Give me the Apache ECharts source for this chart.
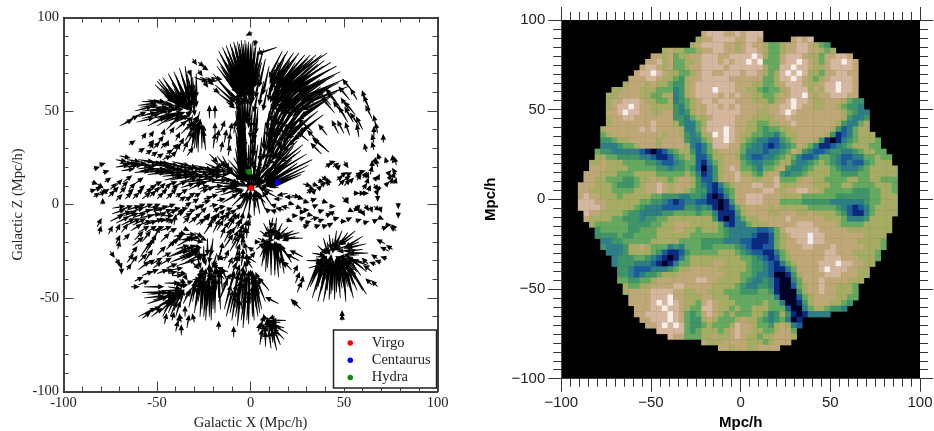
<!DOCTYPE html>
<html><head><meta charset="utf-8">
<style>html,body{margin:0;padding:0;background:#fff}#c{width:934px;height:431px}</style>
<script src="https://cdn.jsdelivr.net/npm/echarts@6/dist/echarts.min.js"></script></head>
<body><div id="c"></div><script>
const virgo=[[0.4,8.8]], centaurus=[[14.5,11.7]], hydra=[[-0.8,17.5]];
const leftTicks=['-100','-50','0','50','100'];
const heatRows=[
"",
"",
".........................78887787888",
"........................677888877887.....7878",
".......................6788887767877655677887654",
"..................6766556778877678876556778877656",
"................7767 566 778887788 8898 655 78887 665 77887",
"...............77867 556 678887878 8989 555 78898 765 788987",
"..............788767 556 778888788 8888 655 88988 766 788887",
".............7889876 655 678877888 7887 656 89898 665 778877",
"............77788766 546 778888877 7777 556 88987 656 788887",
"...........677767665 446 788888887 7766 556 78887 667 889887",
".........66777666555 346 788898887 7665 455 67888 676 889887",
"........667777665566 346 788887878 7766 556 77889 767 788877",
"........677888766556 345 678878887 7766 656 78988 766 7776544",
"........678898776666 435 677887878 7777 677 88987 766 7765443",
"........778988776677 434 677888888 7776 677 89877 777 77765433",
"........677887777777 4435 66788887 7766 667 78777 777 77764334",
"........677777778777 6433 56888887 7665 566 77877 777 77643356",
".......6777777878777 76335 7888987 7665 455 66777777 76423566",
".......5677777777767 76434 6798987 6655 443 56677777 641235666",
".......4456677777677 77433 5688987 6543 322 45677 7641013456665",
".......3334556777677 77632 3588877 5433 212 345 765311234566655",
"......54433333210124 56642 3567776 5333 233 45 76432234433456655",
"......66554444332112 45652 2466776 4322 3345 6532235543223355655",
".....667666555544322 34552 1356777 5433 4456 6433456543232245666",
".....777666655555443 44542 0246787 5543 5567 43345666543334566666",
"....7776665556666555 55653 1246778 6654 677 434456666554445566666",
"....7766555445667665 67764 2246778 7766778 555677665555665566555",
"...77766654445677876 77764 3213567 7788778 666777666556655556665",
"...77666655556677876 77654 4212457 7777887 677887765555544455665",
"...78776665666 665544 43344 3101357 7888777 666655555544444455666",
"...88877666666 554432 12332 2110147 7888777 555544444333333455666",
"...88887666665 433322 22443 4310125 6777767 666665555543212356666",
"....8776666544 333344 55554 5531114 6777766 777667666654211356666",
"....7666655444 344556 66666 6641013 5667777 78777777666533346666",
".....655555544 445566 77766 6665213 3566677 77788877776555566666",
"......45555544 555666 77665 66654333332235 78888887777766666666",
"......44445445 555666 66655 55554333321125 6788898877777776666",
".......3344555 556666 65555 44443332211125 6778898877777766665",
".......4333466 76555 343555 44555543211225 6777887778777776665",
"........333466 665421 12455 55566654322113 567777778877766665",
".........34445 543210 13566 66666665543212 567777778887776665",
".........34443 332101 35566 66776666544321 35677778889887766",
"..........4432 223334 56677 77766666544321 1357777898887766",
"..........4432 344566 67777 77776665543320 0146777788877766",
"..........5544 556777 77778 87766665433431 003577787777666",
"...........655 667777 88777 77666654334431 00256778776665",
"...........677 778888 77667 76665554445541 00046778776665",
"............77 778889 77666 77666555555553 00025677776655",
"............77 778989 87665 78766655555655 3001467776654",
".............7 778898 87655 88766565566655 520035665443",
".............7 788889 87545 78765655566534 641013333",
"..............778889 87544 67655567665434 5301",
"...............77898 98544 56555687765546 7632",
".................888 88545 66656787766556 775",
"...................8 77555 66766787665667 776",
".........................7666777766656777",
"............................77677667777",
"","","","",""
];
const crownArrows=[[1,92,-3,-1.5],[3,88,-1,-3],[14,84,-9,-3],[-18,78,9,-13],[-17,82,8,-14],[-15,84,7,-15],[-13,85,6,-16],[-11,86,5,-16],[-9,87,4,-17],[-7,87,3,-17],[-5,88,2,-18],[-3,88,1,-18],[-1,87,0,-18],[1,87,-1,-18],[3,86,-2,-17],[5,84,-3,-15],[7,83,-4,-14],[-16,74,8,-12],[-14,77,7,-13],[-12,79,6,-14],[-10,81,5,-15],[-8,82,4,-15],[-6,83,3,-15],[-4,84,2,-16],[-2,84,1,-16],[0,84,0,-16],[2,82,-1,-15],[4,78,-2,-13],[-13,68,7,-10],[-11,72,6,-12],[-9,75,5,-13],[-7,77,4,-14],[-5,78,3,-14],[-3,79,2,-14],[-1,79,1,-14],[1,78,0,-14],[-10,64,6,-9],[-8,68,5,-10],[-6,71,4,-11],[-4,72,3,-12],[-2,72,2,-12],[0,70,1,-12],[3,72,-2,-12],[6,76,-3,-11],[-20,70,10,-12],[-19,64,9,-8],[-18,60,8,-6],
[-14,82,6,-15],[-12,82,6,-15],[-10,84,5,-16],[-8,85,4,-17],[-6,86,3,-17],[-4,86,2,-17],[-2,86,1,-17],[0,86,0,-17],[2,84,-1,-16],[4,82,-2,-15],[-16,80,7,-14],[-18,74,9,-12],[-15,72,8,-11],[-12,75,6,-13],[-9,78,5,-14],[-6,80,3,-15],[-3,81,2,-15],[0,81,0,-15],[-17,66,9,-9],[-15,64,8,-8],[-13,62,7,-7],[-11,60,5,-6],[-14,69,8,-10],[-7,64,4,-8],[-4,65,2,-10],[-1,64,1,-10],[2,66,-1,-10],[5,70,-2,-11],[8,78,-3,-13],[10,74,-3,-13],[7,66,-2,-11],[9,62,-2,-10],[4,60,-2,-9],[-9,56,3,-5],[-13,55,4,-3]];
const rightFanArrows=[[17,82,-6,-12],[20,82,-8,-13],[23,81,-9,-13],[26,81,-11,-13],[29,80,-12,-14],[32,80,-14,-14],[35,80,-15,-13],[38,80,-16,-13],[41,81,-18,-12],[43,76,-18,-11],[46,74,-19,-10],[48,71,-19,-9],[50,67,-18,-8],[52,63,-18,-7],[18,78,-6,-14],[21,77,-7,-14],[24,76,-9,-14],[27,75,-10,-14],[30,75,-12,-13],[33,75,-13,-13],[36,75,-14,-12],[39,74,-15,-11],[42,72,-16,-10],[45,69,-17,-9],[47,65,-17,-8],[15,76,-4,-14],[19,72,-6,-14],[22,70,-8,-13],[25,70,-9,-13],[28,70,-11,-13],[31,69,-12,-12],[34,68,-13,-11],[37,67,-14,-11],[40,66,-15,-10],[43,63,-15,-9],[46,60,-15,-8],[13,72,-3,-14],[17,66,-5,-13],[20,65,-7,-13],[23,64,-8,-13],[26,63,-10,-12],[29,62,-11,-12],[32,61,-12,-11],[35,60,-13,-11],[38,59,-13,-10],[41,56,-13,-9],[15,60,-4,-13],[18,58,-6,-13],[21,57,-7,-13],[24,56,-8,-12],[27,55,-9,-12],[30,53,-10,-11],[33,52,-11,-10],[36,50,-11,-9],[39,48,-11,-8],[12,56,-3,-13],[16,52,-5,-12],[19,50,-6,-12],[22,49,-7,-11],[25,47,-8,-11],[28,45,-9,-10],[31,42,-9,-9],
[18.5,80,-7,-13],[21.5,79,-8,-13],[24.5,79,-9,-13],[27.5,78,-11,-13],[30.5,78,-12,-13],[33.5,78,-13,-13],[36.5,77,-14,-12],[39.5,77,-15,-12],[16.5,70,-5,-13],[19.5,68,-6,-13],[22.5,67,-8,-13],[25.5,66,-9,-13],[28.5,66,-10,-13],[31.5,65,-12,-12],[34.5,64,-13,-11],[37.5,63,-13,-11],[40.5,61,-14,-10],[43.5,58,-14,-9],[17,55,-5,-13],[20,53,-6,-13],[23,52,-7,-12],[26,51,-8,-12],[29,49,-9,-11],[32,47,-10,-10],[35,45,-10,-9],[14,48,-3,-12],[18,46,-5,-12],[21,44,-6,-11],[24,42,-7,-11],[27,40,-8,-10],[12,46,-2,-13],[16,40,-5,-11],[19,38,-6,-11],[22,36,-8,-10],[25,34,-9,-9],[28,32,-10,-8],[20,34,-7,-12],[23,31,-9,-11]];
const branchArrows=[[13,50,-2,-12],[10,50,-1,-12],[14,46,-3,-12],[11,44,-2,-13],[8,44,-1,-12],[15,42,-4,-12],[12,38,-3,-12],[9,38,-2,-12],[16,37,-5,-11],[13,33,-4,-12],[10,31,-3,-12],[6,36,-1,-11],[7,28,-3,-11],[17,33,-6,-10],[33,24,-20,-10],[31,21,-18,-9],[29,18,-17,-7],[27,16,-14,-6],[30,27,-18,-11],[27,29,-15,-12],[24,27,-13,-11],[22,24,-12,-10],[25,22,-13,-9],[23,19,-12,-7],[20,31,-10,-13],[18,27,-9,-11],[20,21,-10,-8],[18,17,-9,-6],[16,22,-8,-9],[22,14,-11,-3]];
const trunkArrows=[[-7,60,1,-14],[-5,60,1,-14],[-3,60,0,-14],[-1,60,-1,-14],[1,60,-2,-14],[-8,50,2,-14],[-7,48,1,-14],[-6,50,1,-14],[-5,46,0,-14],[-4,50,0,-14],[-3,47,0,-14],[-8,40,2,-14],[-7,36,2,-14],[-6,38,1,-14],[-5,34,1,-14],[-4,38,0,-14],[-3,35,0,-14],[-8,30,2,-12],[-6,28,1,-12],[-4,28,0,-12],[-2,28,0,-12],[0,48,-1,-6],[1,52,-1,-14],[2,46,-1,-12],[3,40,-1,-12],[4,46,-2,-10],[1,38,0,-10],
[-7.5,56,1,-15],[-6.5,55,1,-15],[-5.5,56,0,-15],[-4.5,55,0,-15],[-3.5,56,0,-15],[-6.5,44,1,-15],[-5.5,42,1,-15],[-4.5,43,0,-15],[-3.5,42,0,-15],[-7.5,34,2,-14],[-6.5,32,1,-14],[-5.5,31,1,-14],[-4.5,31,0,-14],[-3.5,30,0,-14],[-2.5,36,0,-12],[0,36,0,-12],[2,34,-1,-12],[4,32,-2,-12],[6,30,-2,-12],[3,56,-1,-13],[4,52,-1,-12],[-1,32,0,-12]];
const centerArrows=[[-12,24,8,-9],[-9,25,6,-10],[-6,26,4,-11],[-3,27,2,-12],[0,27,0,-12],[3,27,-1,-12],[6,26,-3,-11],[9,24,-5,-10],[12,21,-7,-8],[15,18,-9,-6],[-15,20,9,-6],[-18,16,10,-4],[-20,12,10,-1],[-19,8,10,1],[-16,5,9,3],[-13,2,8,5],[-10,-1,6,6],[-7,-3,5,8],[-4,-5,3,9],[-1,-6,1,10],[2,-6,0,11],[5,-5,-2,10],[8,-3,-3,8],[11,0,-4,6],[14,4,-6,3],[15,9,-8,1],[-8,18,5,-5],[-4,19,3,-6],[0,20,0,-6],[4,19,-2,-6],[8,17,-4,-5],[-12,14,6,-3],[-14,10,7,0],[-10,6,5,2],[-6,3,4,3],[0,2,0,5],[5,3,-2,4],[9,7,-4,2],[20,6,-5,-1],[17,3,-4,0],[14,-1,-3,1],[24,4,-5,0],[10,-4,-2,2],[14,-4,-3,1],[18,-3,-4,1],[21,-2,-4,1],
[-5,16,5,-6],[5,16,-5,-6],[-8,10,8,0],[8,12,-8,-2],[-4,4,4,6],[4,5,-4,5],[-3,22,3,-12],[3,22,-3,-12],[-10,12,10,-2],[10,14,-10,-4],[-16,15,8,-3],[-13,20,7,-6],[-17,10,8,-1],[-15,1,7,4],[-10,20,6,-8],[12,15,-8,-5],[10,20,-6,-8],[-5,-2,3,6],[3,-2,-1,6],[8,1,-4,4],[12,7,-6,2],[-6,24,3,-10],[6,22,-3,-10],[-2,14,1,-5],[2,14,-1,-5]];
const upperRightSparse=[[33,39,-6.5,6],[31,34,-5,4],[35,35,-4,4],[41,37,-4,5],[42,28,-7,6],[40,30,-6,5],[38,27,-5,5],[47,38,-3,6],[50,38,-3,6],[53,37,-2,6],[58,36,-1,6],[48,52,-6,7],[45,49,-6,7],[43,53,-6,7],[50,48,-5,6],[46,55,-5,6],[52,44,-4,7],[55,44,-4,7],[58,42,-4,6],[60,40,-3,6],[56,48,-5,6],[53,50,-4,6],[65,46,-3,6],[64,50,-3,7],[62,54,-2,6],[67,42,-1,5],[68,38,-1,5],[66,36,0,5],[55,60,-5,6],[53,56,-5,6],[57,56,-3,5],[66,33,-1,4],[71,33,0,4],[62,28,-1,4],[66,29,-1,4]];
const rightScatter=[[40,20,3,2],[42,22,3,1],[44,20,3,2],[46,19,2,2],[50,23,2,-3],[65,19,0,4],[66,22,1,3],[68,20,-1,4],[64,16,1,4],[76,22,0,4],[73,22,-1,3],[78,21,-1,4],[69,24,-1,3],[76,14,1,3],[78,16,-2,3],[75,11,1,3],[73,16,2,2],[77,11,1,3],[72,10,2,2],[74,13,1,3],[56,15,3,2],[58,17,3,1],[60,14,2,3],[57,13,2,3],[62,14,1,3],[60,8,2,3],[62,11,1,3],[63,7,1,3],[66,11,2,-3],[67,8,1,-3],[68,5,0,-3],[69,10,-1,-3],[68,14,1,2],[66,13,2,2],[48,15,3,2],[50,13,3,2],[52,16,2,1],[47,10,3,3],[50,10,3,3],[53,12,2,2],[46,13,3,2],[38,15,3,-2],[40,13,3,-1],[36,13,3,-1],[41,10,1,3],[38,10,2,2],[28,11,4,-1],[31,9,3,-1],[33,11,3,-1],[30,6,3,2],[33,6,2,2],[36,8,2,2],[55,6,3,0],[58,6,3,0],[61,6,2,0],[49,4,3,-3],[51,4,1,-3],[79,1,0,-3],[79,-4,0,-3],[66,-1,3,-2],[69,-1,1,-3],[61,0,2,-3],[64,-1,1,-3],[57,0,1,-3],[58,-3,2,-2],[55,-2,3,-1],[53,-3,2,-1],[60,-4,1,-2],[22,5,4,-1],[25,4,3,-1],[28,2,3,-1],[24,-1,3,-1],[28,-3,3,0],[32,2,3,1],[34,-1,2,1],[30,-5,3,-1],[20,1,3,-1],[36,-4,3,1],[42,-1,3,0],[45,-5,-3,1],[40,-6,3,1],[38,2,3,-1],[32,-8,4,1],[36,-9,3,1],[44,-8,3,1],[48,-9,3,0],[52,-8,2,1],[56,-9,3,1],[60,-10,3,1],[66,-9,2,1],[69,-7,2,-1],[72,-11,3,0],[75,-12,3,0],[78,-14,-3,2],[70,-13,3,1],[72,-21,-4,2],[76,-24,-3,2],[74,-25,-4,2],[68,-29,-3,2],[70,-31,-3,1],[73,-29,-3,1],[67,-32,-3,1],[63,-32,-3,3],[65,-36,-4,3],[65,-43,-3,3],[68,-44,-3,3],[49,-60,0,3],[49,-62,0,3]];
const lowerRightFan=[[30,-46,6,14],[33,-50,5,16],[36,-52,4,16],[39,-52,3,17],[42,-51,1,16],[45,-51,0,16],[48,-50,-1,15],[51,-48,-3,14],[54,-47,-4,13],[57,-46,-5,12],[60,-46,-6,11],[62,-48,-7,11],[32,-44,5,13],[35,-46,4,13],[38,-46,3,13],[41,-46,1,13],[44,-46,0,13],[47,-44,-1,12],[50,-42,-2,11],[53,-41,-4,10],[56,-40,-5,9],[59,-38,-6,8],[62,-36,-7,6],[64,-33,-8,3],[61,-31,-8,2],[58,-27,-7,0],[60,-24,-8,-1],[62,-21,-9,-2],[58,-20,-7,-3],[55,-17,-6,-4],[52,-15,-4,-6],[49,-14,-3,-7],[46,-14,-1,-8],[56,-14,-7,-6],[60,-17,-8,-5],[42,-16,1,-7],[39,-18,2,-7],[36,-22,4,-4],[33,-26,6,-1],[30,-30,7,0],[31,-34,7,2],[34,-38,5,5],[37,-40,4,7],[40,-40,3,8],[44,-40,0,9],[47,-38,-1,7],[50,-36,-3,6],[53,-34,-4,5],[56,-33,-6,4],[25,-47,2,5],[24,-42,2,5],[27,-44,1,5],[23,-37,2,4],[27,-56,-4,4],[25,-54,-3,3],[15,-53,-6,3],
[36,-44,4,14],[40,-48,2,16],[43,-48,1,15],[46,-47,0,14],[49,-45,-2,13],[52,-44,-3,12],[55,-43,-4,11],[58,-42,-6,10],[33,-42,5,11],[38,-42,3,11],[36,-38,3,9],[42,-36,1,8],[46,-34,0,5],[50,-30,-4,2],[54,-28,-6,0],[56,-24,-8,-1],[52,-22,-6,-2],[50,-18,-4,-5],[47,-18,-2,-6],[44,-18,0,-7],[41,-20,1,-6],[38,-24,4,-2],[35,-28,5,0],[38,-32,5,2],[60,-34,-7,5],[57,-36,-6,6],[63,-26,-9,0],[55,-50,-3,12],[51,-52,-1,14]];
const midRightTree=[[15,-39,-1,14],[11,-38,0,14],[8,-36,1,14],[6,-33,2,12],[18,-37,-2,13],[13,-35,0,13],[5,-28,3,6],[3,-24,4,3],[4,-18,4,-2],[7,-10,3,-6],[10,-8,1,-7],[14,-7,-1,-8],[17,-10,-3,-6],[20,-12,-5,-5],[23,-14,-6,-3],[26,-15,-8,-2],[28,-18,-9,0],[28,-28,-6,3],[20,-27,-5,5],[18,-30,-3,7],[16,-32,-3,6],[22,-31,-5,8],[26,-30,-6,3],[13,-28,-1,6],[9,-27,1,5],[12,-12,0,-4],[19,-8,3,-1],
[13,-38,0,14],[9,-34,1,13],[16,-34,-2,12],[7,-30,2,9],[11,-32,0,10],[6,-24,3,4],[5,-14,4,-3],[9,-12,2,-6],[13,-10,-1,-6],[16,-13,-3,-5],[20,-15,-5,-3],[24,-17,-6,-2],[10,-24,2,3],[15,-26,-2,4],[18,-24,-4,3],[8,-19,4,0],[16,-18,-3,0],[12,-7,-1,-5],[-1,-30,3,4],[2,-20,3,0],[22,-35,-4,4],[19,-34,-3,5]];
const bottomArrows=[[-9,-71,0,5],[-17,-67,0,4],[-5,-62,2,14],[-2,-62,1,14],[1,-60,0,14],[-8,-60,2,14],[-11,-58,3,13],[-14,-56,3,11],[-17,-52,4,10],[4,-60,-2,14],[6,-56,-3,13],[3,-55,-2,13],[0,-53,-1,13],[-3,-54,0,13],[-6,-53,1,13],[-9,-50,2,11],[-12,-48,3,10],[8,-52,-4,10],[5,-48,-3,9],[2,-47,-1,10],[-1,-46,0,9],[-5,-46,1,9],[10,-46,-5,6],[-15,-44,4,6],[5,-75,1,7],[8,-76,0,7],[11,-77,-1,8],[14,-78,-2,9],[16,-75,-3,7],[7,-70,2,7],[10,-72,0,8],[13,-72,-2,7],[18,-72,-5,5],[20,-69,-7,4],[18,-66,-7,2],[19,-62,-7,0],[16,-63,-6,0],[10,-66,-1,5],[6,-64,1,4],[13,-60,-3,-1],[4,-68,1,4],[-8,-38,2,5],[-5,-40,1,6],[-2,-36,-1,5],[1,-34,-3,4],[3,-31,-5,3],[-10,-32,3,4],[-7,-29,1,4],[-4,-28,0,4],[2,-25,-3,2],
[-7,-65,1,12],[-4,-66,1,14],[-1,-64,0,14],[2,-62,-1,14],[-10,-62,2,13],[-13,-60,3,12],[5,-58,-2,13],[-5,-56,1,12],[-8,-55,2,12],[-2,-50,0,10],[4,-50,-2,10],[-6,-48,1,9],[-11,-44,2,7],[-7,-42,1,6],[-3,-42,0,6],[1,-42,-1,6],[5,-42,-2,5],[8,-74,0,8],[12,-74,-1,8],[6,-72,1,7],[15,-70,-3,6],[12,-68,-2,6],[9,-68,0,6],[16,-66,-5,3],[14,-64,-4,2],[8,-62,-1,3],[5,-67,1,4]];
const lowerLeftTrees=[[-24,-62,1,16],[-21,-62,0,16],[-27,-60,1,15],[-19,-58,0,16],[-30,-58,2,14],[-16,-56,-1,14],[-24,-56,1,14],[-33,-55,3,12],[-28,-52,2,13],[-20,-52,0,13],[-23,-50,1,12],[-26,-48,1,11],[-18,-46,-1,10],[-30,-46,3,9],[-21,-44,0,9],[-14,-40,-4,5],[-12,-36,-5,2],[-16,-34,-4,1],[-12,-28,-5,-1],[-21,-22,-1,-8],[-25,-22,0,-8],[-29,-26,2,-7],[-18,-26,-2,-7],[-32,-30,4,-4],[-22,-30,0,-6],[-57,-44,9,0],[-58,-47,10,0],[-57,-50,9,1],[-55,-53,9,3],[-52,-56,8,4],[-49,-58,6,6],[-60,-60,8,4],[-58,-61,4,3],[-47,-60,4,8],[-44,-58,3,7],[-41,-57,3,8],[-38,-55,2,8],[-35,-60,0,5],[-37,-63,-1,4],[-34,-66,1,6],[-37,-70,0,5],[-40,-68,1,5],[-39,-65,1,5],[-46,-64,1,5],[-42,-62,1,4],[-30,-63,-1,4],[-50,-50,9,2],[-47,-53,7,4],[-45,-55,5,5],[-53,-48,10,1],[-48,-46,9,0],[-43,-50,5,3],[-40,-52,3,5],[-38,-47,2,5],[-44,-44,6,-1],[-41,-42,4,-1],[-38,-40,3,-2],[-36,-37,2,-3],[-34,-42,3,1],[-31,-40,4,0],[-35,-50,3,4],[-32,-49,4,4],
[-25,-60,1,15],[-22,-60,0,15],[-20,-56,0,14],[-26,-56,1,14],[-29,-54,2,13],[-23,-54,1,14],[-17,-50,0,12],[-31,-52,2,11],[-25,-46,1,10],[-28,-44,2,9],[-22,-40,0,7],[-15,-46,-1,10],[-12,-42,-3,7],[-16,-38,-3,3],[-18,-30,-2,-3],[-25,-28,1,-4],[-28,-22,1,-7],[-23,-18,0,-8],[-20,-18,-1,-8],[-15,-22,-2,-7],[-55,-48,9,1],[-52,-51,9,2],[-49,-54,7,4],[-46,-57,5,6],[-43,-60,3,7],[-40,-60,2,7],[-47,-48,8,1],[-44,-52,6,3],[-41,-48,5,2],[-38,-44,4,1],[-46,-42,7,0],[-42,-38,5,0],[-40,-36,5,-1],[-33,-46,4,3],[-36,-53,3,6],[-55,-58,6,3],[-53,-60,5,4]];
const lowerLeftBand=[[-75,-9,6,3],[-72,-10,6,3],[-69,-11,6,3],[-66,-11,6,3],[-63,-11,6,3],[-60,-11,6,2],[-57,-11,6,2],[-54,-10,6,2],[-51,-9,5,1],[-48,-9,5,1],[-71,-6,6,2],[-67,-7,6,2],[-63,-7,6,2],[-59,-7,6,1],[-55,-6,6,1],[-51,-6,5,1],[-47,-6,5,0],[-44,-10,3,2],[-41,-11,1,5],[-82,-12,2,4],[-81,-16,1,4],[-76,-16,2,4],[-72,-15,2,4],[-69,-15,3,4],[-72,-21,2,4],[-71,-24,1,4],[-68,-19,3,3],[-75,-25,2,-3],[-72,-29,2,-3],[-70,-31,1,-3],[-69,-34,0,-3],[-66,-31,3,4],[-64,-27,3,4],[-66,-35,2,3],[-63,-22,5,4],[-59,-28,5,7],[-56,-26,4,7],[-54,-23,3,6],[-52,-19,3,6],[-57,-31,4,6],[-60,-35,5,4],[-57,-33,5,3],[-53,-32,5,3],[-58,-38,5,2],[-55,-37,5,2],[-50,-37,5,2],[-47,-36,5,1],[-44,-37,4,1],[-52,-34,4,3],[-50,-27,4,4],[-47,-28,4,2],[-64,-44,4,0],[-43,-31,10,4],[-40,-33,9,3],[-37,-30,8,4],[-34,-28,6,4],[-38,-25,6,2],[-35,-24,5,2],[-42,-27,7,3],[-32,-22,5,-1],[-42,-20,5,3],[-39,-22,7,4],[-36,-19,6,1],[-33,-17,5,-1],[-30,-15,4,-2],[-38,-15,3,-1],[-35,-13,2,-1],[-14,-23,4,6],[-11,-25,4,7],[-8,-23,3,7],[-5,-22,1,6],[-12,-18,3,5],[-9,-14,3,5],[-6,-16,2,5],[-3,-14,1,5],[-2,-18,0,5],[0,-10,-1,5],[-5,-10,1,5],[-10,-9,2,4],[-15,-14,3,4],[-2,-26,-1,5],
[-44,-28,9,3],[-41,-30,9,3],[-38,-28,8,3],[-35,-31,8,4],[-36,-26,6,2],[-33,-25,5,1],[-30,-30,6,3],[-40,-24,6,2],[-44,-22,5,3],[-41,-17,5,1],[-38,-19,6,1],[-35,-16,5,0],[-31,-19,5,-1],[-28,-17,4,-2],[-14,-20,3,6],[-10,-21,3,6],[-7,-19,2,6],[-4,-18,1,5],[-7,-13,2,5],[-1,-14,0,5],[-12,-11,2,4],[-8,-28,2,6],[-5,-33,1,6],[-10,-38,2,6],[-14,-30,2,5]];
const upperLeftFans=[[-50,66,8,-9],[-47,68,7,-10],[-44,70,6,-11],[-41,71,5,-12],[-38,73,4,-13],[-35,74,2,-14],[-32,72,1,-13],[-29,70,0,-11],[-48,62,8,-7],[-45,64,7,-8],[-42,65,6,-10],[-39,66,4,-11],[-36,67,3,-12],[-33,66,2,-11],[-30,64,1,-10],[-46,58,8,-5],[-43,60,6,-7],[-40,60,5,-8],[-37,61,3,-9],[-34,60,2,-9],[-31,58,1,-9],[-28,76,3,-2],[-26,74,3,-2],[-31,78,2,-3],[-28,72,2,-3],[-33,72,1,-3],[-25,66,2,-3],[-22,66,2,-2],[-20,62,3,-2],[-30,68,6,-2],[-27,68,6,-2],[-24,68,5,-2],[-21,68,5,-1],[-70,42,6,3],[-67,44,6,3],[-64,46,7,3],[-62,50,8,2],[-60,53,8,1],[-58,55,8,0],[-55,56,8,-1],[-61,44,8,2],[-58,46,8,2],[-58,50,9,1],[-55,52,9,0],[-52,55,8,-1],[-55,42,8,4],[-52,44,9,3],[-52,48,9,2],[-49,51,8,0],[-50,42,8,5],[-48,45,9,3],[-46,48,8,1],[-45,40,6,6],[-43,43,7,4],[-40,44,6,3],[-38,42,6,4],[-36,46,4,3],[-34,40,5,6],[-31,42,3,5],[-31,48,-1,-6],[-29,46,-1,-5],[-27,50,-2,-6],[-33,36,3,7],[-35,34,4,7],[-22,46,0,6],[-19,46,0,6],[-19,38,0,5],[-16,39,2,5],[-11,38,1,5],[-9,38,1,6],[-47,37,1,3],[-58,35,2,3],[-55,31,3,3],[-52,30,3,3],[-50,32,3,4],[-45,31,1,3],[-50,25,3,2],[-47,24,4,2],[-45,27,3,2],[-43,25,3,3],[-30,30,1,11],[-28,28,0,13],[-26,30,0,11],[-32,28,2,9],[-24,29,-1,9],[-34,32,3,6],[-27,38,-1,5],[-30,37,1,5],[-38,31,2,4],[-36,28,2,5],[-40,28,2,4],[-34,26,3,4],
[-51,64,8,-8],[-49,67,7,-9],[-46,66,7,-9],[-43,68,6,-11],[-40,69,5,-11],[-37,70,4,-12],[-34,70,3,-12],[-31,68,1,-11],[-47,60,8,-6],[-44,62,7,-8],[-41,62,5,-9],[-38,64,4,-10],[-35,64,3,-10],[-32,62,2,-9],[-44,56,7,-3],[-41,56,5,-4],[-38,57,3,-5],[-35,56,2,-5],[-59,52,8,1],[-56,48,9,2],[-60,47,8,2],[-54,50,9,1],[-50,54,8,-1],[-47,52,8,0],[-44,50,7,1],[-50,46,9,2],[-46,44,8,3],[-42,47,6,2],[-53,46,9,2],[-40,40,5,4],[-37,38,5,5],[-34,48,2,2],[-28,34,1,10],[-31,33,1,9],[-25,33,0,8],[-29,30,1,12]];
const midLeftBand=[[-72,24,5,-1],[-70,26,5,-1],[-68,22,6,0],[-66,24,6,-1],[-72,20,6,1],[-69,18,6,1],[-65,20,6,1],[-62,21,7,0],[-60,24,7,-1],[-58,21,7,0],[-62,17,7,1],[-59,18,7,1],[-55,23,8,-1],[-55,19,8,0],[-52,21,8,0],[-55,16,8,1],[-51,17,8,1],[-48,23,8,-2],[-48,19,8,0],[-47,15,9,1],[-44,22,8,-2],[-44,18,8,0],[-43,13,9,2],[-40,21,8,-2],[-40,17,8,0],[-39,14,8,1],[-36,20,8,-1],[-36,16,8,0],[-35,12,8,1],[-32,18,8,-1],[-31,15,8,0],[-30,21,8,-2],[-27,19,8,-1],[-27,16,8,0],[-24,22,7,-3],[-24,18,7,-1],[-26,12,7,1],[-21,24,5,-4],[-21,20,7,-2],[-20,16,7,0],[-22,27,4,-4],[-18,26,4,-5],[-15,26,3,-6],[-30,10,6,2],[-33,8,6,3],
[-70,22,6,0],[-67,20,6,1],[-64,22,7,0],[-60,19,7,1],[-57,23,8,-1],[-57,17,8,1],[-53,23,8,-1],[-53,18,8,0],[-50,21,8,-1],[-49,16,8,1],[-46,20,8,-1],[-46,17,8,0],[-46,13,8,2],[-42,23,8,-2],[-42,19,8,-1],[-42,15,8,1],[-38,22,8,-2],[-38,18,8,-1],[-38,12,8,2],[-34,20,8,-1],[-34,15,8,0],[-33,11,8,1],[-29,18,8,-1],[-29,13,8,1],[-25,20,8,-2],[-25,15,8,0],[-22,13,8,0],[-18,22,7,-3],[-18,18,7,-1],[-17,13,6,0],[-23,9,7,1],[-19,6,6,2],[-41,10,6,2],[-37,9,6,2],[-45,10,5,2],[-28,8,5,2],[-15,23,5,-5]];
const leftScatter=[[-81,21,3,1],[-84,19,3,1],[-79,17,3,1],[-85,12,3,-1],[-82,11,3,-2],[-80,8,3,-2],[-86,7,3,1],[-84,4,3,2],[-81,5,3,2],[-78,12,3,2],[-75,8,3,3],[-76,4,3,3],[-72,10,3,3],[-70,6,3,3],[-72,2,3,3],[-68,12,4,3],[-65,8,3,3],[-67,3,3,3],[-62,11,4,3],[-60,7,3,3],[-63,3,3,3],[-58,3,4,3],[-55,8,4,2],[-52,10,4,2],[-54,4,3,3],[-49,8,3,3],[-50,3,3,3],[-46,8,3,3],[-45,3,3,3],[-42,8,3,2],[-40,4,3,2],[-37,6,3,2],[-35,2,3,2],[-30,4,3,2],[-27,7,4,1],[-24,8,4,1],[-25,3,4,1],[-79,0,0,3],[-74,-2,6,1],[-70,-3,6,2],[-66,-3,6,2],[-62,-2,5,2],[-58,-2,5,2],[-54,-2,5,2],[-50,-3,5,2],[-46,-2,5,2],[-42,-3,4,1],[-38,-3,4,1],[-34,-4,4,1],[-30,-2,3,1],[-31,-8,4,3],[-27,-5,3,3],[-24,-8,2,3],[-27,-11,4,5],[-23,-13,4,6],[-20,-10,3,5],[-20,-4,3,2],[-16,-5,2,2],[-13,-3,3,1],[-20,-15,3,6],[-25,-16,4,6],
[-83,8,3,1],[-79,6,3,2],[-74,6,3,3],[-69,9,3,3],[-66,5,3,3],[-61,5,3,3],[-57,6,4,2],[-52,6,3,3],[-48,5,3,3],[-43,5,3,3],[-38,2,3,2],[-33,4,3,2],[-22,4,4,1],[-18,2,4,1],[-74,-5,6,2],[-68,-6,6,2],[-64,-4,6,2],[-60,-5,6,2],[-56,-4,6,2],[-52,-4,5,2],[-48,-5,5,2],[-44,-5,4,2],[-40,-6,4,2],[-36,-7,4,2],[-33,-10,4,3],[-29,-11,4,3],[-25,-9,3,3],[-22,-10,3,4],[-17,-9,3,3],[-14,-9,2,4],[-12,-13,3,5],[-36,-10,3,3]];
const gapFillArrows=[[-64,-14,5,3],[-60,-15,5,3],[-56,-15,5,3],[-52,-14,5,2],[-48,-14,5,2],[-44,-15,4,2],[-62,-19,4,4],[-58,-20,4,5],[-48,-20,4,4],[-45,-24,4,4],[-64,-32,3,4],[-60,-31,4,4],[-48,-32,5,3],[-45,-34,5,2],[-42,-35,5,1],[-62,-41,4,2],[-60,-43,5,2],[-39,-5,3,2],[-35,-1,3,2],[-31,1,3,2],[-28,-2,3,2],[-26,1,4,1],[-22,-1,4,1],[-18,-2,4,1],[-14,-7,3,3],[-11,-5,3,2],[-8,-8,2,3],[-8,-3,3,3],[-54,30,2,3],[-48,30,3,3],[-42,29,3,3],[-60,28,3,2],[-56,27,3,2],[-53,26,3,2],[-40,34,2,4],[-43,38,2,3],[-54,36,2,3],[-65,32,3,2],[-18,33,1,6],[-14,33,1,6],[-20,30,1,7],[-12,30,1,7],[-16,28,1,5],[-12,26,1,5],[26,-4,3,0],[26,-8,3,1],[29,-10,3,1],[22,-6,3,0],[34,-12,3,1],[38,-12,3,1],[42,-11,2,1],[28,-12,3,1],[-2,-32,0,5],[-12,-34,2,5],[-16,-26,1,5],[-8,-33,2,5],[-4,-23,0,5],[-18,-14,3,5],[-16,-18,2,5]];
const arrows=[crownArrows,rightFanArrows,branchArrows,trunkArrows,centerArrows,upperRightSparse,rightScatter,lowerRightFan,midRightTree,bottomArrows,lowerLeftTrees,lowerLeftBand,upperLeftFans,midLeftBand,leftScatter,gapFillArrows].flat();
const arrowScale=1.2;
const heatColors=['#000028','#0b2a80','#1d5c9a','#2d7e86','#3f9468','#65a85f','#a6ac63','#bfa877','#d5b69f','#f7eeea'];

const cells=[];
heatRows.forEach((row,r)=>{
  row.replace(/ /g,'').split('').forEach((ch,c)=>{ if(ch!=='.') cells.push([c,63-r,+ch]); });
});
const idx=Array.from({length:64},(_,i)=>i);
const serif='"Liberation Serif"', sans='"Liberation Sans"';
const chart=echarts.init(document.getElementById('c'),null,{renderer:'canvas'});
function renderArrow(params,api){
  const a=api.coord([api.value(0),api.value(1)]);
  const b=api.coord([api.value(0)+arrowScale*api.value(2),api.value(1)+arrowScale*api.value(3)]);
  const ang=Math.atan2(b[1]-a[1],b[0]-a[0]), cs=Math.cos(ang), sn=Math.sin(ang), L=6, W=2.7;
  const len=Math.hypot(b[0]-a[0],b[1]-a[1]);
  const bx=b[0]-L*cs, by=b[1]-L*sn, px=-sn, py=cs;
  const base=Math.min(0.4+len*0.03,1.5), tail=0.35;
  return {type:'group',children:[
    {type:'polygon',shape:{points:[[a[0]+px*tail,a[1]+py*tail],[bx+px*base,by+py*base],[bx-px*base,by-py*base],[a[0]-px*tail,a[1]-py*tail]]},style:{fill:'#000'}},
    {type:'polygon',shape:{points:[[b[0],b[1]],[bx+px*W,by+py*W],[bx-px*W,by-py*W]]},style:{fill:'#000'}}
  ]};
}
const leftAxis=(extra)=>Object.assign({type:'value',gridIndex:0,min:-100,max:100,interval:50,splitLine:{show:false},
  axisLine:{show:true,onZero:false,lineStyle:{color:'#000',width:1.5}},
  axisTick:{inside:true,length:10,lineStyle:{color:'#444',width:1}},
  minorTick:{show:true,splitNumber:5,length:5,lineStyle:{color:'#444',width:1}},
  axisLabel:{show:false}},extra);
const leftLabel={show:true,margin:4.5,color:'#222',fontFamily:serif,fontSize:14.5,showMinLabel:true,showMaxLabel:true,formatter:v=>leftTicks[(v+100)/50]};
const leftName={color:'#222',fontFamily:serif,fontSize:14.5};
const rightAxis=(extra)=>Object.assign({type:'value',gridIndex:2,min:-100,max:100,interval:50,splitLine:{show:false},
  axisLine:{show:false,onZero:false},
  axisTick:{length:13,lineStyle:{color:'#333',width:1}},
  minorTick:{show:true,splitNumber:10,length:8,lineStyle:{color:'#333',width:1}},
  axisLabel:{show:false}},extra);
const rightLabel={show:true,margin:17,color:'#222',fontFamily:sans,fontSize:15,showMinLabel:true,showMaxLabel:true,formatter:v=>String(v).replace('-','\u2212')};
const rightName={color:'#000',fontFamily:sans,fontSize:15,fontWeight:'bold'};
const hiddenCat={type:'category',data:idx,show:false,gridIndex:1};
chart.setOption({
  animation:false,
  backgroundColor:'#fff',
  grid:[
    {left:63.5,top:17.5,width:374,height:374,containLabel:false,outerBoundsMode:'none'},
    {left:561.3,top:20,width:358.7,height:358.7,show:true,backgroundColor:'#000',borderWidth:0,outerBoundsMode:'none'},
    {left:561.3,top:20,width:358.7,height:358.7,outerBoundsMode:'none'}
  ],
  xAxis:[
    leftAxis({position:'bottom',axisLabel:leftLabel,name:'Galactic X (Mpc/h)',nameLocation:'middle',nameGap:15.5,nameTextStyle:leftName}),
    leftAxis({position:'top'}),
    hiddenCat,
    rightAxis({position:'bottom',axisLabel:rightLabel,name:'Mpc/h',nameLocation:'middle',nameGap:35.5,nameTextStyle:rightName}),
    rightAxis({position:'top'})
  ],
  yAxis:[
    leftAxis({position:'left',axisLabel:leftLabel,name:'Galactic Z (Mpc/h)',nameLocation:'middle',nameGap:38,nameTextStyle:leftName}),
    leftAxis({position:'right'}),
    hiddenCat,
    rightAxis({position:'left',axisLabel:Object.assign({},rightLabel,{margin:16}),name:'Mpc/h',nameLocation:'middle',nameGap:63,nameTextStyle:rightName}),
    rightAxis({position:'right'})
  ],
  visualMap:{show:false,type:'continuous',seriesIndex:4,dimension:2,min:0,max:9,inRange:{color:heatColors}},
  legend:{
    left:333.5,top:330,orient:'vertical',data:[{name:'Virgo'},{name:'Centaurus'},{name:'Hydra'}],
    icon:'circle',itemWidth:33,itemHeight:5.5,itemGap:2.2,padding:[5.5,6,3,14],
    borderColor:'#222',borderWidth:1.5,backgroundColor:'#fff',selectedMode:false,z:20,
    textStyle:{fontFamily:serif,fontSize:14.5,color:'#222',lineHeight:14,height:14}
  },
  series:[
    {type:'custom',name:'flow',xAxisIndex:0,yAxisIndex:0,coordinateSystem:'cartesian2d',data:arrows,renderItem:renderArrow,silent:true,clip:true,z:2,progressive:0,dimensions:['x','z','dx','dz'],encode:{x:0,y:1}},
    {type:'scatter',name:'Virgo',xAxisIndex:0,yAxisIndex:0,data:virgo,symbolSize:6,itemStyle:{color:'#f00',opacity:1},z:5,silent:true},
    {type:'scatter',name:'Centaurus',xAxisIndex:0,yAxisIndex:0,data:centaurus,symbolSize:6,itemStyle:{color:'#00f',opacity:1},z:5,silent:true},
    {type:'scatter',name:'Hydra',xAxisIndex:0,yAxisIndex:0,data:hydra,symbolSize:6,itemStyle:{color:'#0a8a0a',opacity:1},z:5,silent:true},
    {type:'heatmap',xAxisIndex:2,yAxisIndex:2,data:cells,silent:true,progressive:0,itemStyle:{borderWidth:0}}
  ]
});
</script></body></html>
